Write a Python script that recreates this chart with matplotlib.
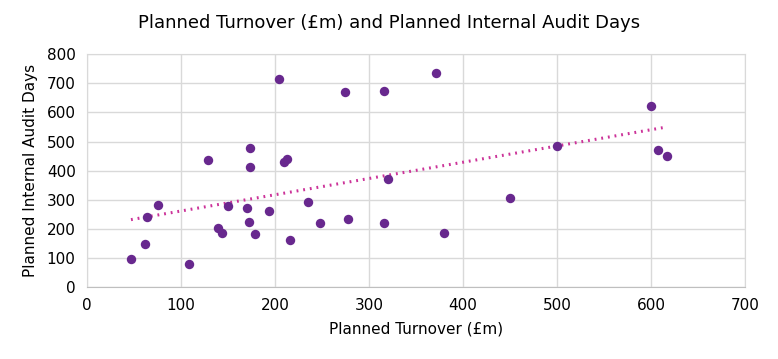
import numpy as np
import matplotlib
matplotlib.use("Agg")
import matplotlib.pyplot as plt

turnover = [204, 275, 316, 173, 129, 173, 213, 210, 320, 76, 64, 150, 170, 194,
            235, 172, 248, 278, 316, 139, 144, 179, 216, 62, 47, 109,
            371, 600, 500, 607, 617, 450, 380]
audit_days = [714, 669, 673, 477, 437, 412, 440, 429, 371, 281, 240, 278, 271, 261,
              292, 223, 220, 233, 220, 203, 185, 182, 161, 148, 96, 79,
              735, 621, 484, 470, 450, 305, 185]

fig = plt.figure(figsize=(7.78, 3.59), dpi=100)
ax = fig.add_axes([0.1115, 0.2, 0.8465, 0.649])

ax.scatter(turnover, audit_days, s=46, color="#68288E", zorder=3, linewidths=0)

# linear trendline over the data range
m, c = np.polyfit(turnover, audit_days, 1)
xs = np.array([min(turnover), max(turnover)])
ax.plot(xs, m * xs + c, color="#CC3399", lw=2.2, ls=(0, (0.6, 1.6)), zorder=2)

ax.set_xlim(0, 700)
ax.set_ylim(0, 800)
ax.set_xticks(range(0, 701, 100))
ax.set_yticks(range(0, 801, 100))
ax.grid(True, color="#D9D9D9", lw=1)
ax.set_axisbelow(True)
ax.tick_params(length=0, labelsize=11, colors="#000000", pad=8)
for s in ax.spines.values():
    s.set_color("#D9D9D9")
ax.spines["bottom"].set_color("#BFBFBF")

ax.set_xlabel("Planned Turnover (£m)", fontsize=11, labelpad=6)
ax.set_ylabel("Planned Internal Audit Days", fontsize=11, labelpad=6)
fig.text(0.5, 0.935, "Planned Turnover (£m) and Planned Internal Audit Days",
         ha="center", va="center", fontsize=13)

fig.savefig("out.png", dpi=100)
